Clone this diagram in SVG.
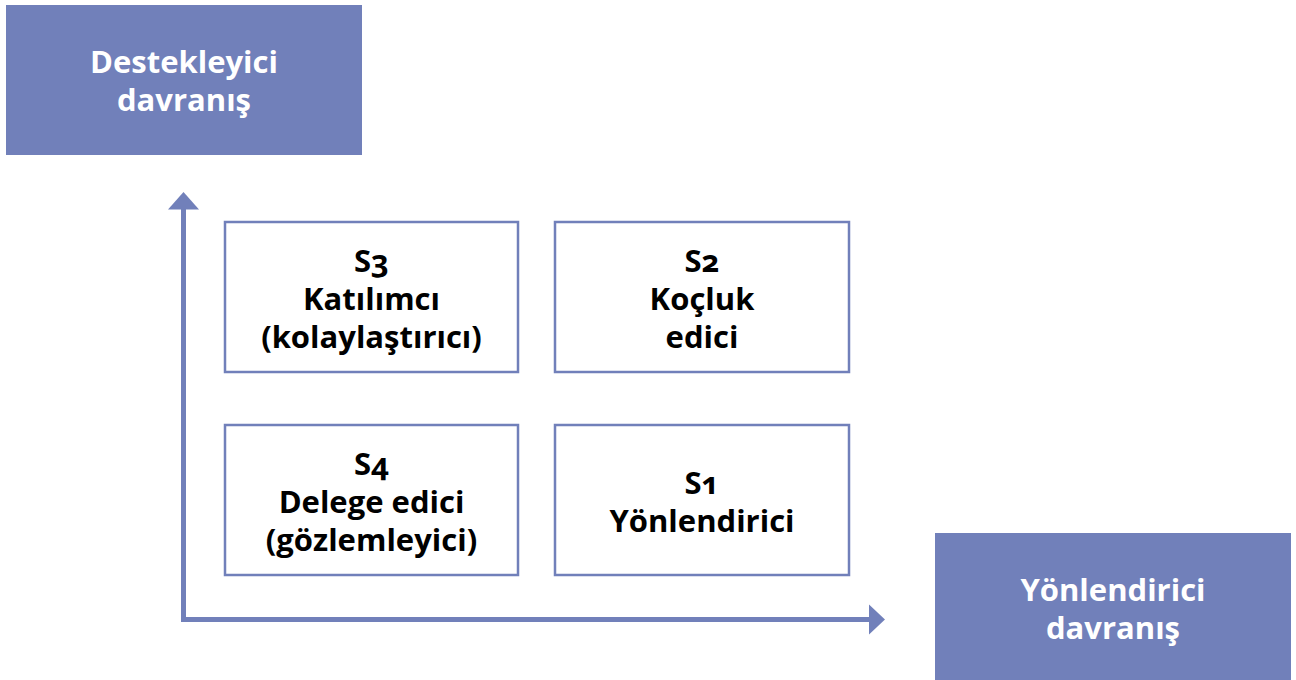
<svg xmlns="http://www.w3.org/2000/svg" width="1296" height="680" viewBox="0 0 1296 680">
  <defs>
    <style>
      .label-box { fill: #7180BA; }
      .label-text { fill: #FFFFFF; font-family: "Open Sans", "Noto Sans", sans-serif; font-weight: 700; font-size: 31px; text-anchor: middle; }
      .quad { fill: #FFFFFF; stroke: #7180BA; stroke-width: 2.5; }
      .quad-text { fill: #000000; font-family: "Open Sans", "Noto Sans", sans-serif; font-weight: 700; font-size: 31px; text-anchor: middle; font-variant-numeric: oldstyle-nums; }
      .axis { fill: none; stroke: #7180BA; stroke-width: 5; }
      .head { fill: #7180BA; }
    </style>
  </defs>
  <rect width="1296" height="680" fill="#FFFFFF"/>

  <!-- axes -->
  <g id="connectors">
    <path class="axis" d="M183.5,208 V619.5 H871"/>
    <polygon class="head" points="183.5,192 199,209.5 168,209.5"/>
    <polygon class="head" points="885,619.5 869,604.5 869,634.5"/>
  </g>

  <!-- axis labels -->
  <g id="support-label">
    <rect class="label-box" x="6" y="5" width="356" height="150"/>
    <text class="label-text" x="184" y="73">Destekleyici</text>
    <text class="label-text" x="184" y="111">davranış</text>
  </g>
  <g id="directive-label">
    <rect class="label-box" x="935" y="533" width="356" height="147"/>
    <text class="label-text" x="1113" y="601">Yönlendirici</text>
    <text class="label-text" x="1113" y="639">davranış</text>
  </g>

  <!-- quadrants -->
  <g id="s3">
    <rect class="quad" x="225" y="222" width="293" height="150"/>
    <text class="quad-text" x="371.5" y="272">S3</text>
    <text class="quad-text" x="371.5" y="310">Katılımcı</text>
    <text class="quad-text" x="371.5" y="348">(kolaylaştırıcı)</text>
  </g>
  <g id="s2">
    <rect class="quad" x="555" y="222" width="294" height="150"/>
    <text class="quad-text" x="702" y="272">S2</text>
    <text class="quad-text" x="702" y="310">Koçluk</text>
    <text class="quad-text" x="702" y="348">edici</text>
  </g>
  <g id="s4">
    <rect class="quad" x="225" y="425" width="293" height="150"/>
    <text class="quad-text" x="371.5" y="475">S4</text>
    <text class="quad-text" x="371.5" y="513">Delege edici</text>
    <text class="quad-text" x="371.5" y="551">(gözlemleyici)</text>
  </g>
  <g id="s1">
    <rect class="quad" x="555" y="425" width="294" height="150"/>
    <text class="quad-text" x="702" y="494">S1</text>
    <text class="quad-text" x="702" y="532">Yönlendirici</text>
  </g>
</svg>
